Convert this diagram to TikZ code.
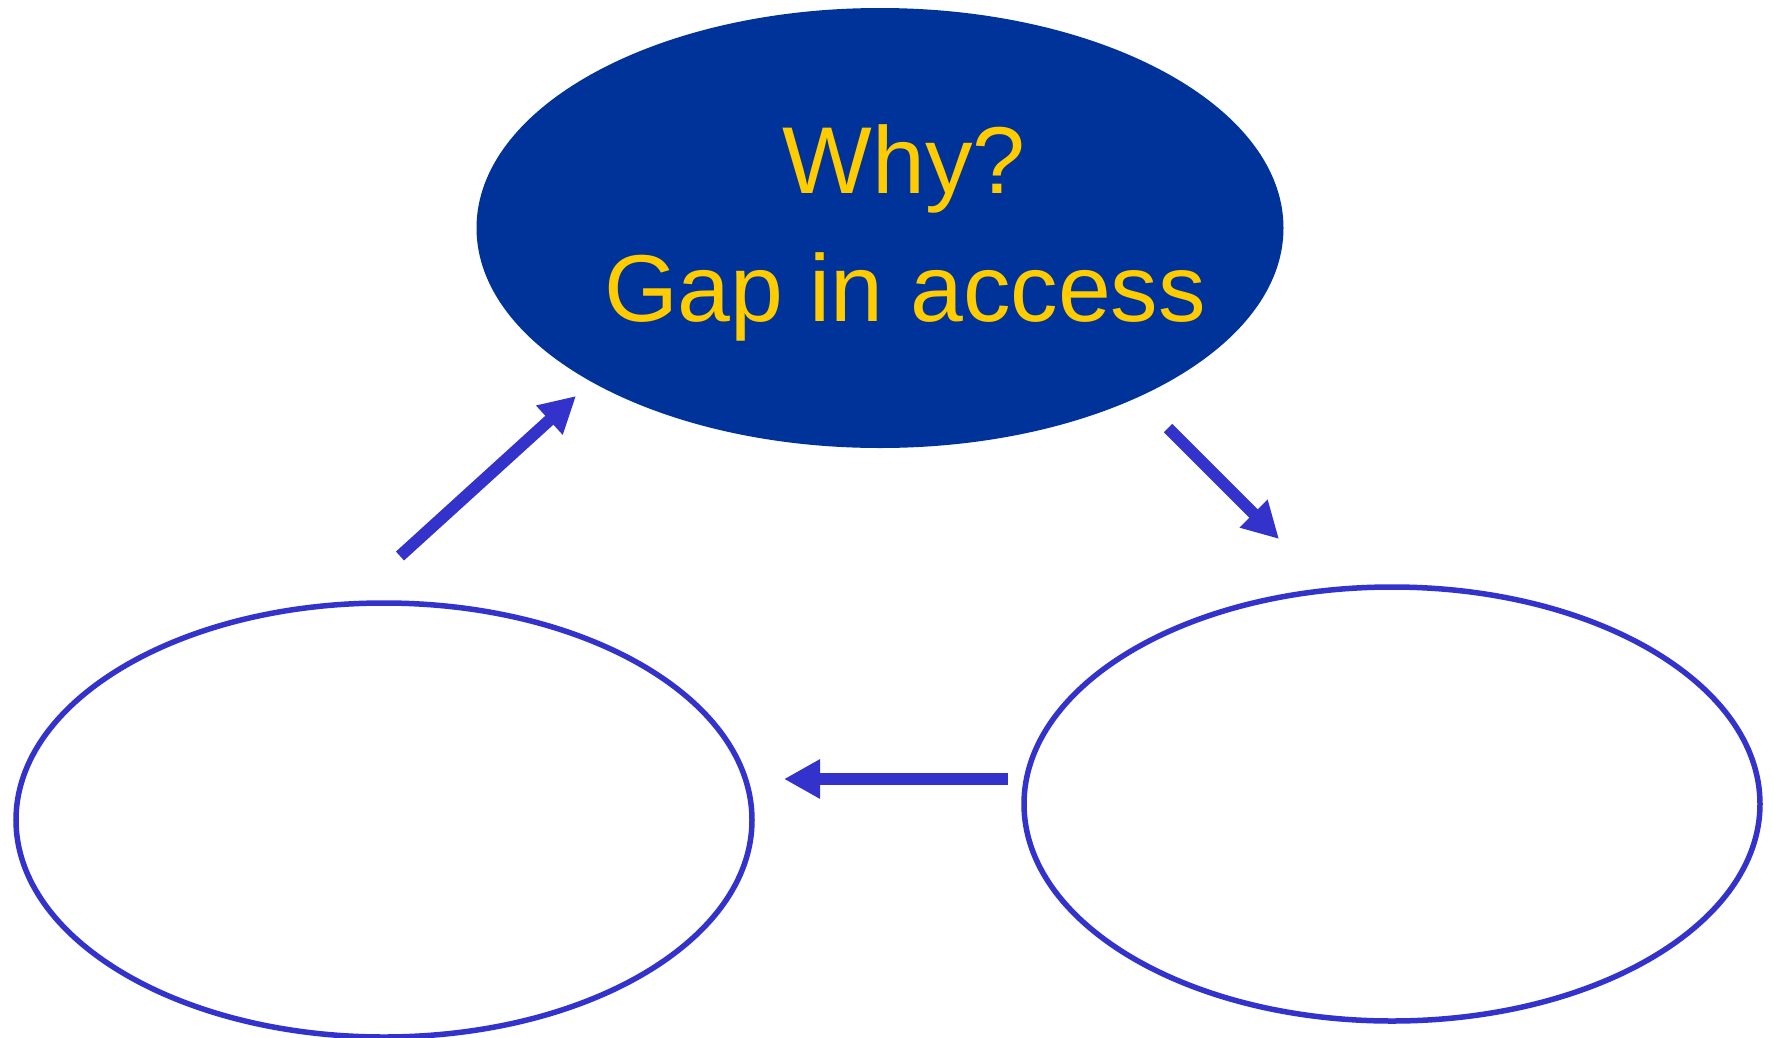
\documentclass[tikz,border=0pt]{standalone}
\usepackage{fontspec}
\setmainfont{Liberation Sans}
\usetikzlibrary{shapes.geometric,arrows.meta}
\definecolor{navy}{HTML}{003399}
\definecolor{stroke}{HTML}{3333CC}
\definecolor{gold}{HTML}{FFCC00}
\tikzset{
  oval/.style={ellipse, inner sep=0pt, outer sep=0pt},
  emptyoval/.style={oval, draw=stroke, line width=5.5pt, minimum width=736pt, minimum height=434pt},
  bigarrow/.style={draw=stroke, line width=12pt, -{Triangle[length=36pt,width=37pt]}, fill=stroke},
  label/.style={text=gold, font=\fontsize{95}{120}\selectfont, inner sep=0pt, anchor=base}
}
\begin{document}
\begin{tikzpicture}[x=1pt,y=-1pt]
\useasboundingbox[fill=white] (0,0) rectangle (1773,1037);
\node[oval, fill=navy, minimum width=807pt, minimum height=440pt] (top) at (880,228) {};
\node[label] (why) at (904,193) {Why?};
\node[label] (gap) at (905,321) {Gap in access};
\node[emptyoval] (left) at (384,820) {};
\node[emptyoval] (right) at (1392,804) {};
\coordinate (a1s) at (400,556);
\coordinate (a1e) at (576,396);
\coordinate (a2s) at (1168,428);
\coordinate (a2e) at (1279,539);
\coordinate (a3s) at (1008,779);
\coordinate (a3e) at (784,779);
\draw[bigarrow] (a1s) -- (a1e);
\draw[bigarrow] (a2s) -- (a2e);
\draw[bigarrow] (a3s) -- (a3e);
\end{tikzpicture}
\end{document}
